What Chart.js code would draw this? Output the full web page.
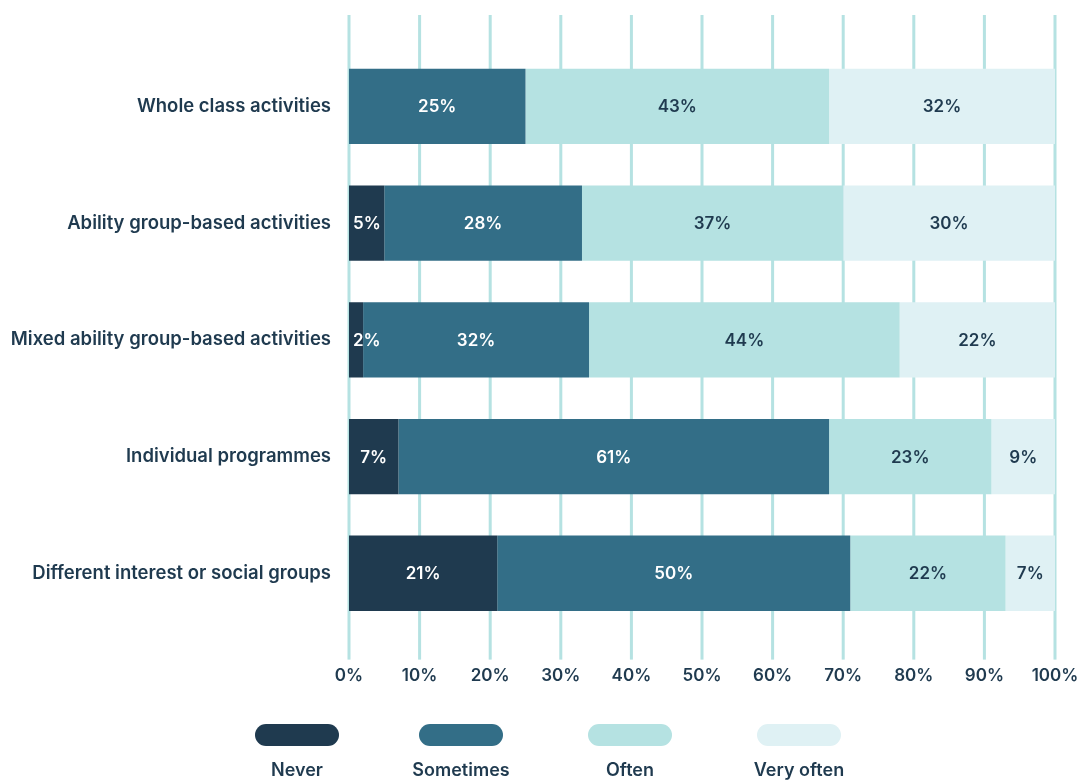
<!DOCTYPE html>
<html lang="en">
<head>
    <meta charset="UTF-8">
    <title>Grouping activities</title>
    <style>
        html, body {
            margin: 0;
            padding: 0;
            background: #ffffff;
        }
        #wrap {
            width: 1080px;
            height: 781px;
        }
    </style>
    <script src="https://cdn.jsdelivr.net/npm/chart.js"></script>
</head>
<body>
    <div id="wrap"><canvas id="groupChart" width="1080" height="781"></canvas></div>
    <script>
        const categories = [
            'Whole class activities',
            'Ability group-based activities',
            'Mixed ability group-based activities',
            'Individual programmes',
            'Different interest or social groups'
        ];
        const never = [0, 5, 2, 7, 21];
        const sometimes = [25, 28, 32, 61, 50];
        const often = [43, 37, 44, 23, 22];
        const veryOften = [32, 30, 22, 9, 7];
        const xTicks = [0, 10, 20, 30, 40, 50, 60, 70, 80, 90, 100];

        const INK = '#1f3a4f';
        const GRID = '#b5e2e2';
        const FONT = "Inter, 'Open Sans', sans-serif";

        // vertical grid lines, taller than the plot area
        const gridPlugin = {
            id: 'tallGrid',
            beforeDatasetsDraw(chart) {
                const ctx = chart.ctx;
                const area = chart.chartArea;
                const x = chart.scales.x;
                ctx.save();
                ctx.fillStyle = GRID;
                xTicks.forEach(v => {
                    const px = x.getPixelForValue(v);
                    ctx.fillRect(px - 1.5, area.top - 33, 3, area.bottom - area.top + 61);
                });
                ctx.restore();
            }
        };

        // percentage labels inside each segment
        const valuePlugin = {
            id: 'segmentValues',
            afterDatasetsDraw(chart) {
                const ctx = chart.ctx;
                ctx.save();
                ctx.font = '600 17px ' + FONT;
                ctx.textAlign = 'center';
                ctx.textBaseline = 'middle';
                chart.data.datasets.forEach((ds, i) => {
                    chart.getDatasetMeta(i).data.forEach((bar, j) => {
                        const v = ds.data[j];
                        if (!v) return;
                        const p = bar.getProps(['x', 'y', 'base'], true);
                        const text = v + '%';
                        const w = ctx.measureText(text).width;
                        // keep narrow segment labels off the left edge
                        const cx = Math.max((p.x + p.base) / 2, p.base + w / 2 + 4);
                        ctx.fillStyle = ds.labelColor;
                        ctx.fillText(text, cx, p.y + 1);
                    });
                });
                ctx.restore();
            }
        };

        // pill legend with the names underneath
        const legendPlugin = {
            id: 'pillLegend',
            afterDraw(chart) {
                const ctx = chart.ctx;
                const centers = [297, 461, 630, 799];
                ctx.save();
                ctx.font = '600 18px ' + FONT;
                ctx.textAlign = 'center';
                ctx.textBaseline = 'middle';
                chart.data.datasets.forEach((ds, i) => {
                    const cx = centers[i];
                    ctx.fillStyle = ds.backgroundColor;
                    ctx.beginPath();
                    ctx.roundRect(cx - 42, 724, 84, 22, 11);
                    ctx.fill();
                    ctx.fillStyle = INK;
                    ctx.fillText(ds.label, cx, 771);
                });
                ctx.restore();
            }
        };

        const ctx = document.getElementById('groupChart').getContext('2d');
        new Chart(ctx, {
            type: 'bar',
            data: {
                labels: categories,
                datasets: [
                    { label: 'Never', data: never, backgroundColor: '#1f3a4f', labelColor: '#ffffff' },
                    { label: 'Sometimes', data: sometimes, backgroundColor: '#336e87', labelColor: '#ffffff' },
                    { label: 'Often', data: often, backgroundColor: '#b5e2e2', labelColor: INK },
                    { label: 'Very often', data: veryOften, backgroundColor: '#dff1f4', labelColor: INK }
                ]
            },
            plugins: [gridPlugin, valuePlugin, legendPlugin],
            options: {
                indexAxis: 'y',
                responsive: false,
                animation: false,
                layout: {
                    padding: { top: 48, right: 25, bottom: 61, left: 0 }
                },
                datasets: {
                    bar: {
                        barPercentage: 0.645,
                        categoryPercentage: 1,
                        borderWidth: 0
                    }
                },
                plugins: {
                    legend: { display: false },
                    tooltip: { enabled: false }
                },
                scales: {
                    x: {
                        stacked: true,
                        min: 0,
                        max: 100,
                        border: { display: false },
                        grid: { display: false, drawTicks: false },
                        afterBuildTicks(scale) {
                            scale.ticks = xTicks.map(v => ({ value: v }));
                        },
                        afterFit(scale) {
                            scale.paddingLeft = 0;
                            scale.paddingRight = 0;
                        },
                        ticks: {
                            padding: 34,
                            color: INK,
                            font: { family: FONT, size: 17, weight: '600' },
                            callback: v => v + '%'
                        }
                    },
                    y: {
                        stacked: true,
                        border: { display: false },
                        grid: { display: false, drawTicks: false },
                        afterFit(scale) {
                            scale.width = 349;
                        },
                        ticks: {
                            padding: 18,
                            color: INK,
                            font: { family: FONT, size: 18.5, weight: '600' }
                        }
                    }
                }
            }
        });
    </script>
</body>
</html>
